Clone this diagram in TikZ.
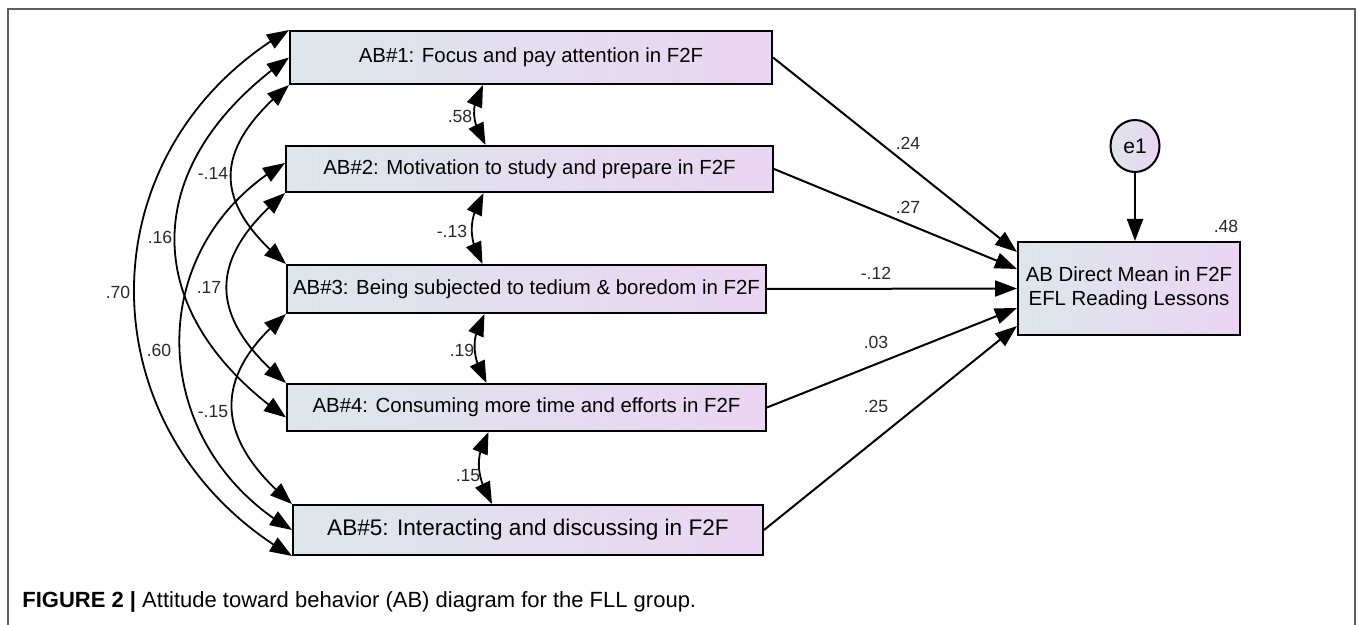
\documentclass[tikz,border=0pt]{standalone}
\usepackage{fontspec}
\setmainfont{Liberation Sans}
\usetikzlibrary{arrows.meta,bending,shapes.geometric}

\definecolor{boxleft}{RGB}{221,230,234}
\definecolor{boxright}{RGB}{234,213,243}
\definecolor{framegray}{RGB}{95,95,95}
\definecolor{labelgray}{RGB}{40,40,40}

\tikzset{
  var/.style={draw=black, line width=1pt, left color=boxleft, right color=boxright,
    inner sep=0pt, font=\fontsize{10.2}{12}\selectfont},
  err/.style={ellipse, draw=black, line width=1pt, left color=boxleft, right color=boxright,
    minimum width=24.5pt, minimum height=26pt, inner sep=0pt, font=\fontsize{10.5}{12}\selectfont},
  path/.style={-{Triangle[length=11pt,width=8pt]}, line width=1pt},
  cov/.style={{Triangle[length=11pt,width=8pt]}-{Triangle[length=11pt,width=8pt]}, line width=0.9pt},
  coef/.style={inner sep=0pt, text=labelgray, font=\fontsize{8.8}{10}\selectfont},
}

\begin{document}
\begin{tikzpicture}[x=0.5pt,y=0.5pt]
  \useasboundingbox (0,0) rectangle (1358,-625);
  % frame
  \draw[framegray, line width=0.8pt] (8,-640) -- (8,-9) -- (1355,-9) -- (1355,-640);

  % observed variables
  \node[var, minimum width=241pt, minimum height=26.5pt] (ab1) at (531,-57.5) {AB\#1: Focus and pay attention in F2F};
  \node[var, minimum width=243.5pt, minimum height=23pt] (ab2) at (529.5,-169) {AB\#2: Motivation to study and prepare in F2F};
  \node[var, minimum width=239.5pt, minimum height=24pt] (ab3) at (526.5,-289) {AB\#3: Being subjected to tedium \& boredom in F2F};
  \node[var, minimum width=239.5pt, minimum height=23.5pt] (ab4) at (526.5,-407.5) {AB\#4: Consuming more time and efforts in F2F};
  \node[var, minimum width=235pt, minimum height=25pt, font=\fontsize{11.3}{13}\selectfont] (ab5) at (528,-530) {AB\#5: Interacting and discussing in F2F};
  \node[var, minimum width=111pt, minimum height=46.5pt, align=center] (out) at (1129,-288.5) {AB Direct Mean in F2F\\EFL Reading Lessons};
  \node[err] (e1) at (1135,-146) {e1};
  \node[coef] (r2) at (1226,-226) {.48};

  % regression paths
  \draw[path] (ab1.east) -- ([yshift=18.25pt]out.west);
  \draw[path] (ab2.east) -- ([yshift=9.75pt]out.west);
  \draw[path] (ab3.east) -- (out.west);
  \draw[path] (ab4.east) -- ([yshift=-9.75pt]out.west);
  \draw[path] (ab5.east) -- ([yshift=-18.75pt]out.west);
  \draw[path] (e1) -- (e1 |- out.north);
  \node[coef] (b1) at (908,-143) {.24};
  \node[coef] (b2) at (908,-207) {.27};
  \node[coef] (b3) at (876,-273) {-.12};
  \node[coef] (b4) at (876,-342) {.03};
  \node[coef] (b5) at (876,-406) {.25};

  % covariances between neighbours
  \draw[cov] ([xshift=-24pt]ab1.south) .. controls +(240:27) and +(120:27) .. ([xshift=-22pt]ab2.north);
  \draw[cov] ([xshift=-23pt]ab2.south) .. controls +(240:30) and +(120:30) .. ([xshift=-22pt]ab3.north);
  \draw[cov] ([xshift=-21pt]ab3.south) .. controls +(240:29) and +(120:29) .. ([xshift=-20pt]ab4.north);
  \draw[cov] ([xshift=-19pt]ab4.south) .. controls +(240:30) and +(120:30) .. ([xshift=-18pt]ab5.north);
  \node[coef] (c12) at (460,-116) {.58};
  \node[coef] (c23) at (452,-231) {-.13};
  \node[coef] (c34) at (462,-350) {.19};
  \node[coef] (c45) at (468,-476) {.15};

  % covariances round the left side
  \draw[cov] (ab1.north west) .. controls +(210:241) and +(150:241) .. (ab5.south west);
  \draw[cov] (ab1.west) .. controls +(215:184) and +(145:184) .. ([yshift=-5pt]ab4.west);
  \draw[cov] (ab1.south west) .. controls +(220:99) and +(140:99) .. (ab3.north west);
  \draw[cov] ([yshift=3pt]ab2.west) .. controls +(210:168) and +(150:168) .. (ab5.west);
  \draw[cov] (ab2.south west) .. controls +(220:103) and +(140:103) .. (ab4.north west);
  \draw[cov] (ab3.south west) .. controls +(220:100) and +(140:100) .. (ab5.north west);
  \node[coef] (c15) at (118,-292) {.70};
  \node[coef] (c14) at (160,-237) {.16};
  \node[coef] (c13) at (213,-173) {-.14};
  \node[coef] (c25) at (159,-350) {.60};
  \node[coef] (c24) at (209,-287) {.17};
  \node[coef] (c35) at (213,-412) {-.15};

  % caption
  \node[anchor=west, inner sep=0pt, font=\fontsize{11}{13}\selectfont] (cap) at (22,-602)
    {\textbf{FIGURE 2 |} Attitude toward behavior (AB) diagram for the FLL group.};
\end{tikzpicture}
\end{document}
